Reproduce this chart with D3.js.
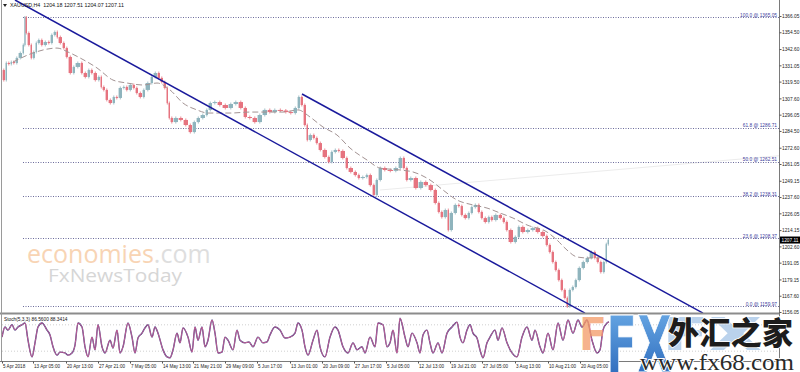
<!DOCTYPE html>
<html><head><meta charset="utf-8">
<script src="https://cdn.jsdelivr.net/npm/d3@7"></script>
<style>html,body{margin:0;padding:0;background:#fff;overflow:hidden}svg{display:block}</style>
</head><body>
<svg id="c" width="800" height="372"></svg>
<script>
// ---------- DATA ----------
const headerText = "XAUUSD,H4  1204.18 1207.51 1204.07 1207.11";
const lastPrice = 1207.11;
const priceBars = [0,3,5,8,10,13,16,20,22,23,25,28,30,33,35,38,41,45,48,51,54,56,60,63,66,70,73,78,81,85,88,91,95,98,100,103,106,110,113,116,120,123,126,130,133,136,140,143,148,151,155,158,161,164,166,168,171,176,181,186,190,194,198,203,206,210,215,220,226,231,236,241,245,250,255,260,265,270,275,281,286,291,295,298,301,304,306,310,313,316,320,325,328,331,335,338,343,346,351,355,358,363,366,370,373,376,380,385,391,396,400,403,406,411,416,421,426,431,435,438,441,445,447,451,455,458,461,465,468,471,475,478,481,485,488,491,496,500,503,506,511,515,518,523,528,533,538,543,546,549,552,555,558,561,564,566,569,572,575,579,583,587,591,594,597,600,603,605,607];
const priceClose = [1327.7,1320.6,1332.7,1332.0,1333.4,1332.7,1336.3,1339.8,1345.5,1365.0,1354.0,1345.5,1336.3,1340.5,1346.9,1349.0,1345.5,1347.6,1346.9,1352.6,1354.7,1351.1,1346.9,1343.3,1337.0,1325.6,1329.9,1332.7,1325.6,1322.8,1327.7,1325.6,1320.6,1322.8,1315.7,1313.6,1306.5,1304.3,1308.6,1307.9,1315.0,1315.7,1313.6,1317.1,1315.0,1311.4,1308.6,1313.6,1318.5,1322.8,1325.6,1322.1,1319.2,1315.0,1304.3,1293.7,1290.8,1293.7,1292.3,1288.7,1283.7,1290.8,1293.7,1295.8,1299.4,1304.3,1305.0,1302.9,1300.8,1303.6,1305.0,1300.8,1294.4,1293.7,1290.8,1295.8,1299.4,1297.9,1299.4,1299.0,1297.9,1297.2,1300.8,1308.6,1302.9,1288.7,1278.1,1281.6,1279.5,1275.9,1271.0,1266.0,1262.5,1269.6,1271.0,1270.3,1265.3,1258.2,1255.4,1253.2,1251.1,1251.8,1253.2,1246.1,1239.1,1249.7,1258.2,1256.8,1256.2,1258.2,1265.3,1258.2,1249.7,1251.1,1244.0,1248.3,1246.1,1242.6,1233.4,1227.0,1223.4,1228.4,1214.2,1226.3,1232.0,1231.2,1224.9,1222.7,1226.3,1230.5,1232.0,1227.0,1222.7,1219.9,1223.4,1221.3,1224.9,1222.7,1219.9,1214.2,1205.7,1209.3,1216.4,1212.8,1214.2,1215.6,1212.8,1210.0,1203.6,1198.6,1191.5,1185.8,1178.7,1171.7,1166.0,1160.0,1171.7,1173.8,1178.7,1187.3,1191.5,1194.4,1198.6,1194.4,1191.5,1184.4,1191.5,1204.18,1207.11];
const maBars = [11,31,55,66,78,95,111,125,141,155,168,181,195,206,228,248,281,296,308,321,335,348,365,378,398,411,428,441,455,471,485,498,511,525,545,555,565,575,585,595,601];
const maValues = [1333.4,1339.8,1343.3,1340.5,1336.3,1329.2,1320.6,1318.5,1317.1,1318.5,1313.6,1304.3,1299.4,1297.2,1297.2,1297.9,1297.9,1299.4,1294.4,1287.3,1281.6,1272.4,1263.9,1258.2,1256.8,1255.4,1249.7,1242.6,1235.5,1232.0,1229.8,1226.3,1222.7,1217.8,1212.8,1207.1,1200.0,1195.1,1194.4,1194.4,1195.1];
const stochLabel = "Stoch(5,3,3) 86.5600 88.3414";
const stochBars = [0,3,6,10,13,16,20,23,26,30,33,36,40,45,48,51,55,58,63,66,70,73,76,80,83,86,90,93,96,100,103,108,111,115,118,121,126,130,133,136,140,143,146,150,153,156,161,165,168,171,175,178,181,186,190,193,196,200,203,206,210,213,216,220,223,226,231,235,238,243,247,251,256,261,265,268,273,278,283,288,293,296,300,303,306,311,315,318,323,328,333,336,341,346,351,355,360,363,368,373,376,381,385,388,391,395,398,403,406,410,415,418,421,425,428,431,436,440,445,450,455,458,461,465,468,471,475,478,481,485,488,493,496,500,505,510,515,520,525,530,533,538,541,546,551,556,561,566,571,576,580,585,590,595,598,601,605,607];
const stochK = [52,75,68,80,68,75,80,84,45,7,39,75,84,68,57,30,11,18,16,11,16,34,84,75,30,7,52,23,80,30,16,45,27,68,16,30,84,52,16,50,61,73,80,52,75,61,23,7,5,23,61,39,73,52,18,75,45,75,30,45,91,61,16,18,52,45,23,68,45,39,41,30,52,39,41,57,75,68,50,52,61,84,68,30,11,45,68,30,7,52,75,68,30,16,39,23,30,16,52,30,84,80,30,39,68,16,95,52,30,61,39,16,57,68,39,16,39,16,61,75,86,52,39,68,80,61,50,23,5,39,52,68,45,73,39,16,7,52,75,45,68,30,16,61,23,84,45,91,61,91,75,91,45,16,23,68,84,86.56];
const stochLevels = [80, 20];
const priceTicks = [1366.05,1354.50,1342.60,1331.05,1319.50,1307.60,1296.05,1284.50,1272.60,1261.05,1249.15,1237.60,1226.05,1214.15,1202.60,1191.05,1179.15,1167.60,1156.05];
const timeTickBars = [0,31,64,96,128,160,191,223,255,288,320,352,384,416,448,480,513,546,578];
const timeTickLabels = ["5 Apr 2018","13 Apr 05:00","20 Apr 13:00","27 Apr 21:00","7 May 05:00","14 May 13:00","21 May 21:00","29 May 09:00","5 Jun 17:00","13 Jun 01:00","20 Jun 09:00","27 Jun 17:00","5 Jul 05:00","12 Jul 13:00","19 Jul 21:00","27 Jul 05:00","3 Aug 13:00","10 Aug 21:00","20 Aug 05:00"];
const fibLevels = ["100.0","61.8","50.0","38.2","23.6","0.0"];
const fibPrices = [1365.05,1286.71,1262.51,1238.31,1208.37,1159.97];
const fibStartBar = 21;
const channelLower = [[13,1377.4],[583,1155.3]];
const channelUpper = [[300,1310.7],[701,1155.3]];
const faintLine = [[378,1242.6],[777,1266.9]];

// ---------- SCALES ----------
const svg = d3.select("#c");
const W = 800, axisX = 779, mainBottom = 313, stTop = 315, stBottom = 360;
const x = d3.scaleLinear().domain([0, 777]).range([2, axisX]);
const y = d3.scaleLinear().domain([1156.05, 1366.05]).range([312, 16]);
const ys = d3.scaleLinear().domain([0, 100]).range([stBottom, 316]);
const font = "'Liberation Sans', Arial, sans-serif";

const defs = svg.append("defs");
defs.append("clipPath").attr("id","mainClip").append("rect").attr("x",2).attr("y",0).attr("width",axisX-2).attr("height",mainBottom);
defs.append("clipPath").attr("id","stClip").append("rect").attr("x",2).attr("y",stTop-1).attr("width",axisX-2).attr("height",stBottom-stTop+1);
const grad = defs.append("linearGradient").attr("id","fxBlue").attr("x1",0).attr("y1",0).attr("x2",0).attr("y2",1);
grad.append("stop").attr("offset","0%").attr("stop-color","#6fb0ea");
grad.append("stop").attr("offset","100%").attr("stop-color","#2460b5");

svg.append("rect").attr("width",W).attr("height",372).attr("fill","#fff");

// watermark economies / FxNewsToday (behind)
const wm = svg.append("g");
const t1 = wm.append("text").attr("x",27).attr("y",263).attr("font-family","'Open Sans', sans-serif").attr("font-size",25);
t1.append("tspan").attr("fill","#f8d4b4").text("economies");
t1.append("tspan").attr("fill","#dedede").text(".com");
wm.append("text").attr("x",48).attr("y",282).attr("font-family","'Open Sans', sans-serif").attr("font-size",19)
  .attr("fill","#d6d6d6").attr("textLength",134).attr("lengthAdjust","spacingAndGlyphs").text("FxNewsToday");

const main = svg.append("g").attr("clip-path","url(#mainClip)");

// faint line
main.append("line").attr("x1",x(faintLine[0][0])).attr("y1",y(faintLine[0][1]))
  .attr("x2",x(faintLine[1][0])).attr("y2",y(faintLine[1][1])).attr("stroke","#ececec").attr("stroke-width",1);

// fib lines
fibPrices.forEach((p,i)=>{
  main.append("line").attr("x1",x(fibStartBar)).attr("x2",axisX).attr("y1",Math.round(y(p))+0.5).attr("y2",Math.round(y(p))+0.5)
    .attr("stroke","#6c6c9c").attr("stroke-width",1).attr("stroke-dasharray","1,1.5");
});

// candles
const cg = main.append("g");
for (let i=1;i<priceBars.length;i++){
  const x0 = x(priceBars[i-1]), x1 = x(priceBars[i]);
  const o = priceClose[i-1], c = priceClose[i];
  const up = c >= o;
  const col = up ? "#8fb4bd" : "#e6737f";
  const yt = y(Math.max(o,c)), yb = y(Math.min(o,c));
  const xm = (x0+x1)/2 + 0.3;
  cg.append("line").attr("x1",xm).attr("x2",xm).attr("y1",yt-1.5).attr("y2",yb+1.5).attr("stroke",col).attr("stroke-width",0.8);
  cg.append("rect").attr("x",x0+0.6).attr("width",Math.max(1,x1-x0-0.6))
    .attr("y",yt).attr("height",Math.max(1,yb-yt)).attr("fill",col);
}

// moving average dashed
main.append("path").datum(maBars.map((b,i)=>[b,maValues[i]]))
  .attr("d", d3.line().x(d=>x(d[0])).y(d=>y(d[1])).curve(d3.curveMonotoneX))
  .attr("fill","none").attr("stroke","#a39393").attr("stroke-width",1).attr("stroke-dasharray","6,3");

// channel lines
[channelLower, channelUpper].forEach(ch=>{
  main.append("line").attr("x1",x(ch[0][0])).attr("y1",y(ch[0][1])).attr("x2",x(ch[1][0])).attr("y2",y(ch[1][1]))
    .attr("stroke","#1a1a9c").attr("stroke-width",1.5);
});

// fib labels
fibPrices.forEach((p,i)=>{
  svg.append("text").attr("x",axisX-2).attr("y",y(p)-0.5).attr("text-anchor","end")
    .attr("font-family",font).attr("font-size",4.8).attr("fill","#3c3c9c").text(fibLevels[i]+" @ "+p.toFixed(2));
});

// header
svg.append("path").attr("d","M3,4 L7,4 L5,7 Z").attr("fill","#222");
svg.append("text").attr("x",10).attr("y",7).attr("font-family",font).attr("font-size",5.3).attr("fill","#111").attr("xml:space","preserve").text(headerText);

// separator
svg.append("line").attr("x1",0).attr("x2",axisX).attr("y1",mainBottom+0.5).attr("y2",mainBottom+0.5).attr("stroke","#8c8c8c").attr("stroke-width",2);

// stoch panel
const st = svg.append("g").attr("clip-path","url(#stClip)");
stochLevels.forEach(l=>{
  st.append("line").attr("x1",2).attr("x2",axisX).attr("y1",ys(l)).attr("y2",ys(l)).attr("stroke","#c4c4c4").attr("stroke-width",0.8).attr("stroke-dasharray","1,2");
});
const sline = d3.line().x((d,i)=>x(stochBars[i])).y(d=>ys(d)).curve(d3.curveMonotoneX);
st.append("path").datum(stochK).attr("d",sline).attr("fill","none").attr("stroke","#3a3a80").attr("stroke-width",1.4);
st.append("path").datum(stochK).attr("d",sline).attr("fill","none").attr("stroke","#e46a9a").attr("stroke-width",0.8);
svg.append("text").attr("x",4).attr("y",321).attr("font-family",font).attr("font-size",4.8).attr("fill","#111").text(stochLabel);

// left border
svg.append("line").attr("x1",1.5).attr("x2",1.5).attr("y1",0).attr("y2",361).attr("stroke","#9a9a9a").attr("stroke-width",1);

// right axis
svg.append("line").attr("x1",axisX+0.5).attr("x2",axisX+0.5).attr("y1",0).attr("y2",361).attr("stroke","#7a7a7a").attr("stroke-width",1);
const ya = svg.append("g").attr("transform",`translate(${axisX+0.5},0)`)
  .call(d3.axisRight(y).tickValues(priceTicks).tickSize(2).tickFormat(d3.format(".2f")));
ya.select(".domain").remove();
ya.selectAll("line").attr("stroke","#555");
ya.selectAll("text").attr("x",2.5).attr("dy","0.35em").attr("font-family",font).attr("font-size",4.8).attr("fill","#222");

// current price box
svg.append("rect").attr("x",axisX+1).attr("y",y(lastPrice)-3.5).attr("width",21).attr("height",7).attr("fill","#000");
svg.append("text").attr("x",axisX+2.5).attr("y",y(lastPrice)).attr("dy","0.35em").attr("font-family",font).attr("font-size",4.8).attr("fill","#fff").text(lastPrice.toFixed(2));

// bottom axis
svg.append("line").attr("x1",0).attr("x2",axisX).attr("y1",361.5).attr("y2",361.5).attr("stroke","#7a7a7a").attr("stroke-width",1);
const xa = svg.append("g").attr("transform","translate(0,361.5)")
  .call(d3.axisBottom(x).tickValues(timeTickBars).tickSize(2).tickFormat((d,i)=>timeTickLabels[i]));
xa.select(".domain").remove();
xa.selectAll("line").attr("stroke","#555");
xa.selectAll("text").attr("y",3).attr("dy","0.71em").attr("text-anchor","start").attr("x",0.5)
  .attr("font-family",font).attr("font-size",4.6).attr("fill","#222");

// FX logo watermark
const lg = svg.append("g");
lg.append("text").attr("x",579).attr("y",350).attr("font-family","'DejaVu Sans', sans-serif").attr("font-weight","bold")
  .attr("font-size",45).attr("fill","#f39a66").attr("opacity",0.75).attr("textLength",28).attr("lengthAdjust","spacingAndGlyphs").text("F");
lg.append("text").attr("x",662).attr("y",350).attr("font-family","'DejaVu Sans', sans-serif").attr("font-weight","bold")
  .attr("font-size",44).attr("fill","#a9c8e8").attr("opacity",0.8).attr("textLength",100).attr("lengthAdjust","spacingAndGlyphs").text("FX");
lg.append("text").attr("x",606).attr("y",372).attr("font-family","'DejaVu Sans', sans-serif").attr("font-weight","bold")
  .attr("font-size",78).attr("fill","url(#fxBlue)").attr("stroke","#fff").attr("stroke-width",1)
  .attr("textLength",66).attr("lengthAdjust","spacingAndGlyphs").text("FX");
lg.append("text").attr("x",668).attr("y",344).attr("font-family","'Noto Sans CJK SC', sans-serif").attr("font-weight","900")
  .attr("font-size",31).attr("fill","#1c1c1c").attr("stroke","#fff").attr("stroke-width",1.5).attr("paint-order","stroke")
  .attr("textLength",125).attr("lengthAdjust","spacingAndGlyphs").text("外汇之家");
lg.append("text").attr("x",640).attr("y",370).attr("font-family","'Liberation Serif', serif")
  .attr("font-size",23).attr("fill","#2a2a2a").attr("stroke","#fff").attr("stroke-width",2).attr("paint-order","stroke")
  .attr("textLength",154).attr("lengthAdjust","spacingAndGlyphs").text("www.fx68.com");
</script>
</body></html>
